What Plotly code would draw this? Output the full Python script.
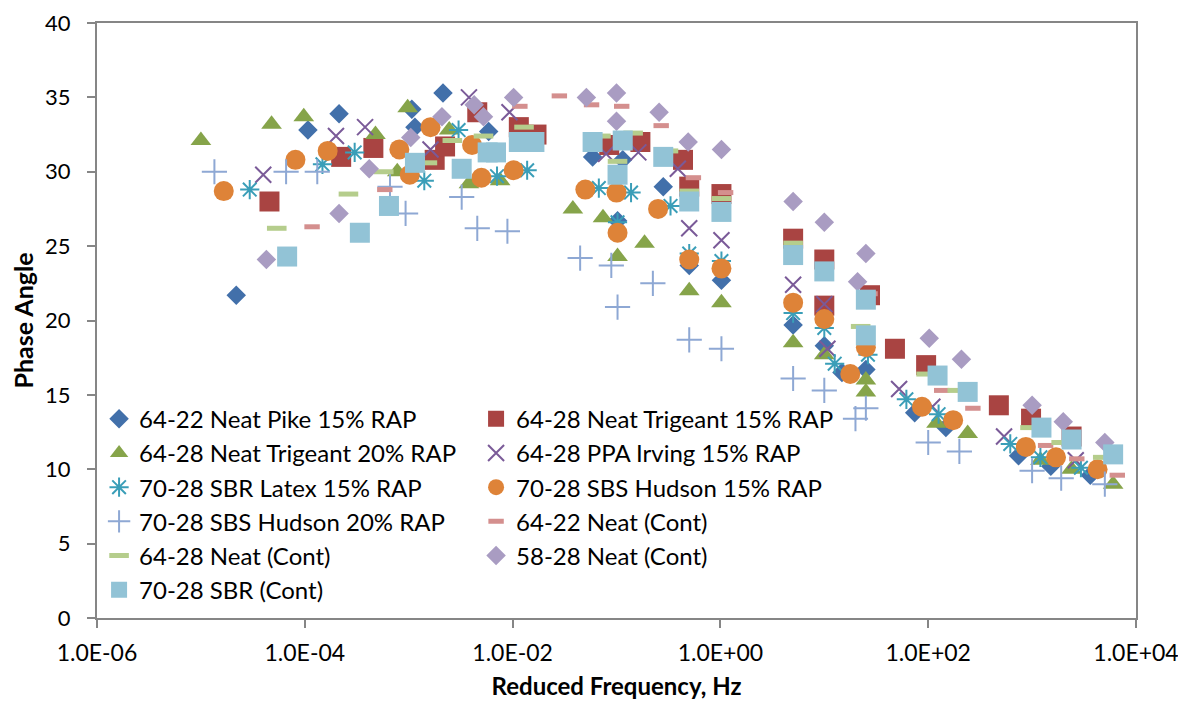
import plotly.graph_objects as go

# ---- data: log10(reduced frequency, Hz) and phase angle (deg) per series ----
names = [
    "64-22 Neat Pike 15% RAP", "64-28 Neat Trigeant 15% RAP",
    "64-28 Neat Trigeant 20% RAP", "64-28 PPA Irving 15% RAP",
    "70-28 SBR Latex 15% RAP", "70-28 SBS Hudson 15% RAP",
    "70-28 SBS Hudson 20% RAP", "64-22 Neat (Cont)",
    "64-28 Neat (Cont)", "58-28 Neat (Cont)", "70-28 SBR (Cont)",
]

pike15_logf = [-4.66, -3.97, -3.67, -2.97, -2.94, -2.67, -2.23, -1.23, -0.94, -0.99, -0.55,
               -0.30, 0.01, 0.70, 1.00, 1.17, 1.40, 1.87, 2.17, 2.87, 3.18, 3.56]
pike15_phase = [21.7, 32.8, 33.9, 34.2, 33.0, 35.3, 32.7, 31.0, 30.8, 26.7, 29.0,
                23.7, 22.7, 19.7, 18.3, 16.5, 16.7, 13.8, 12.8, 10.9, 10.2, 9.6]

trig15_logf = [-4.34, -3.65, -3.34, -2.75, -2.65, -2.34, -1.94, -1.77, -1.07, -0.77, -0.36,
               -0.30, 0.01, 0.70, 1.00, 1.00, 1.44, 1.68, 1.98, 2.68, 2.99, 3.38]
trig15_phase = [28.0, 31.0, 31.6, 30.8, 31.7, 34.0, 33.0, 32.5, 31.8, 32.0, 30.8,
                29.0, 28.5, 25.5, 24.1, 21.0, 21.7, 18.1, 17.0, 14.3, 13.4, 12.2]

trig20_logf = [-5.00, -4.32, -4.01, -3.32, -3.01, -3.11, -2.61, -2.42, -2.12, -1.42, -1.13,
               -0.73, -0.99, -0.30, 0.01, 0.70, 1.00, 1.40, 1.40, 2.08, 2.38, 3.08, 3.38, 3.78]
trig20_phase = [32.1, 33.2, 33.7, 32.5, 34.3, 30.0, 32.8, 29.2, 29.4, 27.5, 26.9,
                25.2, 24.3, 22.0, 21.2, 18.5, 17.7, 16.0, 15.2, 13.1, 12.4, 10.6, 10.0, 9.0]

ppa15_logf = [-4.40, -3.70, -3.42, -2.79, -2.42, -2.03, -1.10, -0.79, -0.41, -0.30, 0.01,
              0.70, 1.00, 1.03, 1.72, 2.04, 2.73, 3.42]
ppa15_phase = [29.8, 32.4, 33.0, 31.5, 35.0, 34.0, 31.2, 31.3, 30.2, 26.2, 25.4,
               22.4, 21.1, 18.1, 15.4, 14.2, 12.2, 10.6]

sbr15_logf = [-4.53, -3.83, -3.52, -2.85, -2.52, -2.15, -1.86, -1.17, -0.86, -0.99, -0.48,
              -0.30, 0.01, 0.70, 1.00, 1.10, 1.42, 1.79, 2.10, 2.79, 3.08, 3.47]
sbr15_phase = [28.8, 30.5, 31.3, 29.4, 32.8, 29.7, 30.1, 28.9, 28.6, 26.6, 27.7,
               24.5, 24.0, 20.5, 19.5, 17.1, 17.7, 14.7, 13.7, 11.7, 10.8, 10.1]

sbs15_logf = [-4.78, -4.09, -3.78, -3.09, -2.99, -2.79, -2.39, -2.30, -1.99, -1.30, -1.00,
              -0.99, -0.60, -0.30, 0.01, 0.70, 1.00, 1.25, 1.40, 1.94, 2.24, 2.94, 3.23, 3.63]
sbs15_phase = [28.7, 30.8, 31.4, 31.5, 29.8, 33.0, 31.8, 29.6, 30.1, 28.8, 28.6,
               25.9, 27.5, 24.1, 23.5, 21.2, 20.1, 16.4, 18.2, 14.2, 13.3, 11.5, 10.8, 10.0]

sbs20_logf = [-4.87, -4.18, -3.88, -3.18, -3.03, -2.49, -2.34, -2.05, -1.35, -1.05, -0.99,
              -0.65, -0.30, 0.01, 0.70, 1.00, 1.30, 1.40, 2.00, 2.30, 3.00, 3.28, 3.70]
sbs20_phase = [30.0, 30.0, 30.0, 29.0, 27.2, 28.3, 26.2, 26.0, 24.2, 23.7, 20.9,
               22.5, 18.7, 18.1, 16.1, 15.3, 13.4, 14.1, 11.8, 11.2, 9.9, 9.4, 9.0]

neat6422_logf = [-3.93, -3.23, -1.93, -1.55, -1.24, -0.95, -0.57, -0.26, 0.05, 1.44,
                 2.13, 2.43, 3.13, 3.43, 3.82]
neat6422_phase = [26.3, 28.8, 34.4, 35.1, 34.5, 34.4, 33.1, 29.6, 28.6, 21.8,
                  15.3, 14.1, 11.6, 10.7, 9.6]

neat6428_logf = [-4.27, -3.58, -3.24, -2.82, -2.58, -2.28, -1.89, -1.15, -0.84, -0.50, -0.99,
                 -0.30, 0.01, 0.70, 1.35, 1.98, 2.28, 2.98, 3.28, 3.68]
neat6428_phase = [26.2, 28.5, 30.0, 30.6, 32.1, 32.4, 33.0, 32.4, 32.6, 31.4, 30.7,
                  28.7, 28.2, 25.2, 19.6, 16.4, 15.3, 12.8, 11.8, 10.8]

neat5828_logf = [-4.37, -3.67, -3.38, -2.98, -2.68, -2.37, -2.28, -1.99, -1.29, -1.00, -1.00,
                 -0.59, -0.31, 0.01, 0.70, 1.00, 1.32, 1.40, 2.01, 2.32, 3.00, 3.30, 3.70]
neat5828_phase = [24.1, 27.2, 30.2, 32.3, 33.7, 34.5, 33.7, 35.0, 35.0, 35.3, 33.4,
                  34.0, 32.0, 31.5, 28.0, 26.6, 22.6, 24.5, 18.8, 17.4, 14.3, 13.2, 11.8]

sbr_cont_logf = [-4.17, -3.47, -3.19, -2.94, -2.49, -2.24, -2.16, -1.94, -1.79, -1.23, -0.94,
                 -0.99, -0.55, -0.30, 0.01, 0.70, 1.00, 1.40, 1.40, 2.09, 2.38, 3.09, 3.38, 3.78]
sbr_cont_phase = [24.3, 25.9, 27.7, 30.6, 30.2, 31.3, 31.3, 32.0, 32.0, 32.0, 32.1,
                  29.8, 31.0, 28.0, 27.3, 24.4, 23.3, 21.4, 19.0, 16.3, 15.2, 12.8, 12.0, 11.0]

x_tick_vals = [1e-6, 1e-4, 1e-2, 1e0, 1e2, 1e4]
x_tick_text = ["1.0E-06", "1.0E-04", "1.0E-02", "1.0E+00", "1.0E+02", "1.0E+04"]
y_tick_vals = [0, 5, 10, 15, 20, 25, 30, 35, 40]

series_x = [pike15_logf, trig15_logf, trig20_logf, ppa15_logf, sbr15_logf, sbs15_logf,
            sbs20_logf, neat6422_logf, neat6428_logf, neat5828_logf, sbr_cont_logf]
series_y = [pike15_phase, trig15_phase, trig20_phase, ppa15_phase, sbr15_phase, sbs15_phase,
            sbs20_phase, neat6422_phase, neat6428_phase, neat5828_phase, sbr_cont_phase]

# ---- styles ----
styles = [
    dict(symbol="diamond", size=15, color="#4270AA", line=dict(width=0)),
    dict(symbol="square", size=20, color="#A94442", line=dict(width=0)),
    dict(symbol="triangle-up", size=18, color="#86A44A", line=dict(width=0)),
    dict(symbol="x-thin-open", size=16, color="#7A5A98", line=dict(width=2, color="#7A5A98")),
    dict(symbol="asterisk-open", size=16, color="#3A9EB8", line=dict(width=2, color="#3A9EB8")),
    dict(symbol="circle", size=20, color="#DE8338", line=dict(width=0)),
    dict(symbol="cross-thin-open", size=18, color="#8EA8D4", line=dict(width=2, color="#8EA8D4")),
    dict(symbol="line-ew-open", size=11, color="#D48F8E", line=dict(width=5, color="#D48F8E")),
    dict(symbol="line-ew-open", size=14, color="#B5CD8C", line=dict(width=5, color="#B5CD8C")),
    dict(symbol="diamond", size=15, color="#A99CC2", line=dict(width=0)),
    dict(symbol="square", size=20, color="#92C3D6", line=dict(width=0)),
]

fig = go.Figure()
for name, xs, ys, st in zip(names, series_x, series_y, styles):
    fig.add_trace(go.Scatter(
        x=[10 ** v for v in xs], y=ys, mode="markers", name=name,
        marker=st,
    ))

axis_color = "#868686"
font_family = "Lato, Carlito, 'Open Sans', sans-serif"

fig.update_layout(
    width=1178, height=703,
    margin=dict(l=89, r=50, t=15, b=93, autoexpand=False),
    paper_bgcolor="white", plot_bgcolor="white",
    font=dict(family=font_family, color="black", size=23),
    showlegend=True,
    legend=dict(
        orientation="h", x=0.002, y=0.372, xanchor="left", yanchor="top",
        bgcolor="rgba(0,0,0,0)", font=dict(size=24, family=font_family),
        entrywidth=332, entrywidthmode="pixels", itemwidth=30,
        tracegroupgap=0,
    ),
    xaxis=dict(
        type="log", range=[-6, 4], automargin=False,
        tickvals=x_tick_vals, ticktext=x_tick_text,
        showgrid=False, zeroline=False,
        showline=True, linecolor=axis_color, linewidth=2, mirror=True,
        ticks="outside", ticklen=8, tickcolor=axis_color, tickwidth=1.5,
        tickfont=dict(size=23), ticklabelstandoff=5, ticklabeloverflow="allow",
        title=dict(text="<b>Reduced Frequency, Hz</b>", font=dict(size=24), standoff=14),
    ),
    yaxis=dict(
        range=[0, 40], tickvals=y_tick_vals, automargin=False,
        showgrid=False, zeroline=False,
        showline=True, linecolor=axis_color, linewidth=2, mirror=True,
        ticks="outside", ticklen=8, tickcolor=axis_color, tickwidth=1.5,
        tickfont=dict(size=22), ticklabelstandoff=12, ticklabeloverflow="allow",
        title=dict(text="<b>Phase Angle</b>", font=dict(size=25), standoff=10),
    ),
)

fig.write_html("out.html")
